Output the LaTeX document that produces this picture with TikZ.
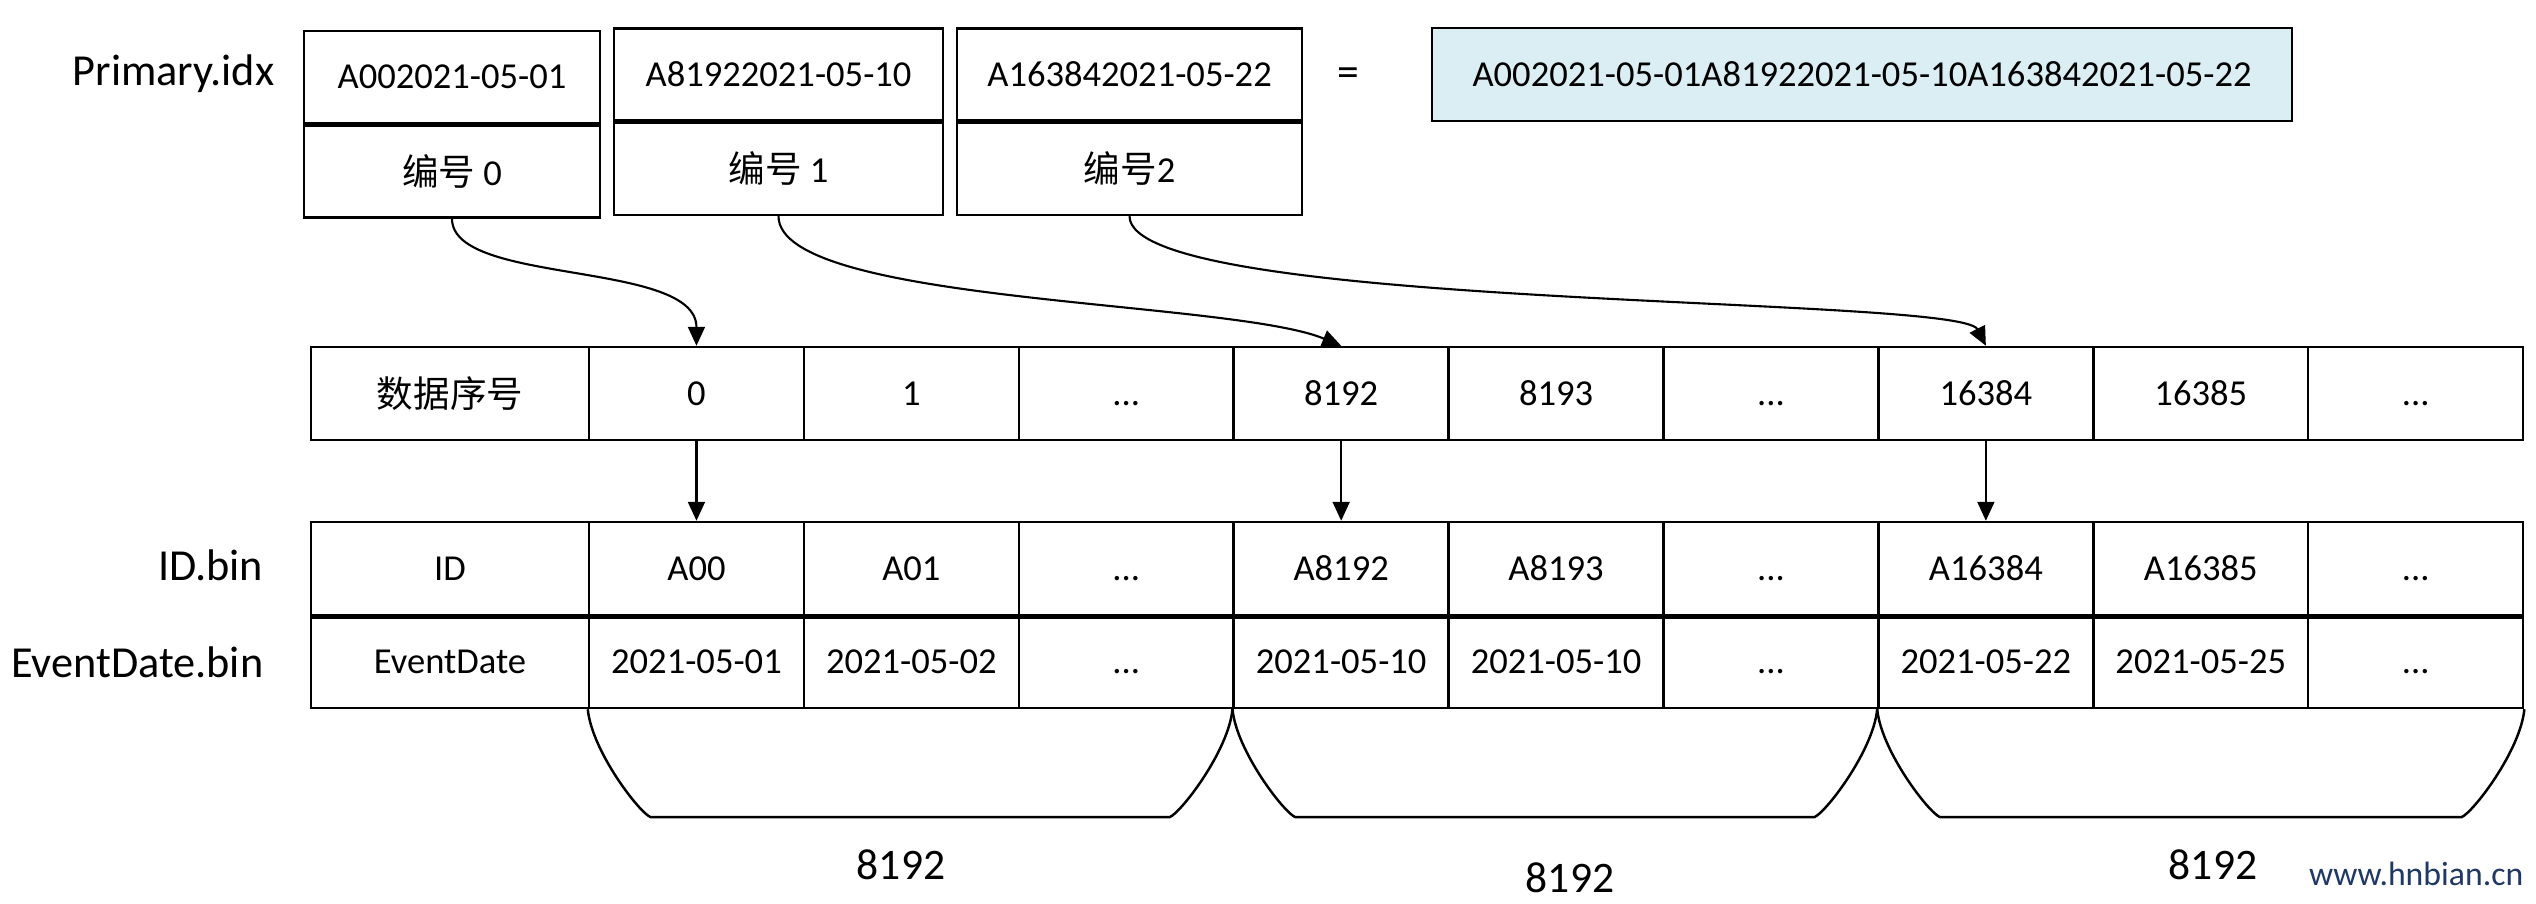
\documentclass[tikz,border=0pt]{standalone}
\usepackage{fontspec}
\setmainfont{Carlito}
\newfontfamily\cjk{Noto Sans CJK SC}
\usetikzlibrary{arrows.meta,calc,positioning}
\definecolor{idxblue}{HTML}{DAEEF3}
\definecolor{markblue}{HTML}{1F3864}
\def\dd{\vphantom{0}...}
\tikzset{
  cell/.style={draw, line width=0.7pt, minimum height=9.3mm, inner sep=0pt,
    font=\fontsize{10.4}{12}\selectfont},
  filename/.style={anchor=east, inner sep=0pt, font=\fontsize{12.6}{15}\selectfont},
  link/.style={-{Triangle[width=1.7mm,length=1.9mm]}, line width=0.6pt},
  bracket/.style={line width=0.7pt},
  count/.style={font=\fontsize{12.4}{15}\selectfont}
}
\begin{document}
\begin{tikzpicture}[x=0.1mm, y=-0.1mm]
  \useasboundingbox (0,0) rectangle (2536,904);
  % Primary.idx marks
  \node[filename] (primary) at (275,74) {Primary.idx};
  \foreach \cx/\cy/\w/\keytxt/\numtxt [count=\k from 0] in
      {452/77/29.6/A002021-05-01/0, 778.5/74.5/32.9/A81922021-05-10/1, 1129.5/74.5/34.5/A163842021-05-22/2} {
    \node[cell, minimum width=\w mm, minimum height=9.2mm] (key\k) at (\cx,\cy) {\keytxt};
    \node[cell, minimum width=\w mm, minimum height=9.2mm, below=0pt of key\k]
      (num\k) {{\cjk 编号}\ifnum\k<2\ \fi\numtxt};
  }
  \node[count] (eq) at (1348,77) {=};
  \node[cell, fill=idxblue, minimum width=86mm] (concat) at (1862,74.5)
    {A002021-05-01A81922021-05-10A163842021-05-22};
  % rows
  \node[cell, minimum width=27.8mm] (seq0) at (450,393.5) {\cjk 数据序号};
  \node[cell, minimum width=27.8mm] (id0) at (450,568.5) {ID};
  \node[cell, minimum width=27.8mm] (date0) at (450,661.5) {EventDate};
  \foreach \seqtxt/\idtxt/\datetxt [count=\k] in
      {0/A00/2021-05-01, 1/A01/2021-05-02, \dd/\dd/\dd,
       8192/A8192/2021-05-10, 8193/A8193/2021-05-10, \dd/\dd/\dd,
       16384/A16384/2021-05-22, 16385/A16385/2021-05-25, \dd/\dd/\dd} {
    \pgfmathsetmacro{\cx}{481.55+214.9*\k}
    \node[cell, minimum width=21.49mm] (seq\k) at (\cx,393.5) {\seqtxt};
    \node[cell, minimum width=21.49mm] (id\k) at (\cx,568.5) {\idtxt};
    \node[cell, minimum width=21.49mm] (date\k) at (\cx,661.5) {\datetxt};
  }
  \draw[line width=1.3pt] (id0.south west) -- (id9.south east);
  \node[filename] (idbin) at (264,565) {ID.bin};
  \node[filename] (datebin) at (264,662) {EventDate.bin};
  % links
  \draw[link] (num0.south) .. controls +(0,67) and +(0,-86) .. (seq1.north);
  \draw[link] (num1.south) .. controls +(0,88) and +(-111,-46) .. (seq4.north);
  \draw[link] (num2.south) .. controls +(0,95) and +(-26,-51) .. (seq7.north);
  \foreach \k in {1,4,7}
    \draw[link] (seq\k.south) -- (id\k.north);
  % granules
  \foreach \a/\b in {date1.south west/date4.south west, date4.south west/date7.south west,
                     date7.south west/date9.south east}
    \draw[bracket] (\a) .. controls +(4,42) and +(-11,-4) .. ($(\a)+(63,108)$)
      -- ($(\b)+(-63,108)$) .. controls +(11,-4) and +(-4,42) .. (\b);
  \node[count] (cnt1) at (901,865) {8192};
  \node[count] (cnt2) at (1570,878) {8192};
  \node[count] (cnt3) at (2213,865) {8192};
  \node[anchor=east, inner sep=0pt, text=markblue, font=\fontsize{9.6}{12}\selectfont]
    (site) at (2524,874) {www.hnbian.cn};
\end{tikzpicture}
\end{document}
